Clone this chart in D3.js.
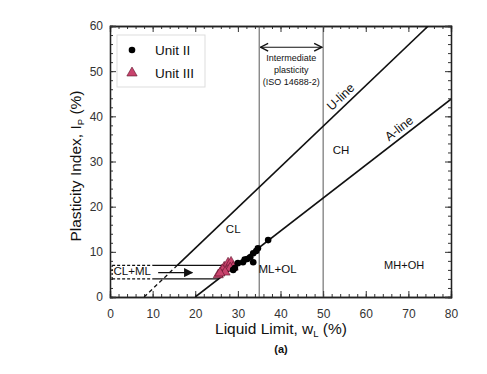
<!DOCTYPE html>
<html>
<head>
<meta charset="utf-8">
<script src="https://cdn.jsdelivr.net/npm/d3@7"></script>
<style>
  html,body{margin:0;padding:0;background:#fff;}
  svg{display:block;font-family:Arial,"Liberation Sans",sans-serif;}
  .tick text{fill:#333;font-size:12px;}
</style>
</head>
<body>
<div id="view"></div>
<script>
(function(){
/* ===================== DATA ===================== */
// Unit II  (liquid limit wL, plasticity index Ip)
const unit2LL = [29.3, 30.0, 31.2, 32.2, 32.9, 33.6, 34.3, 34.7, 33.6, 37.1, 28.9, 31.6];
const unit2PI = [ 6.4,  7.5,  7.7,  8.4,  8.8,  9.7, 10.2, 10.8,  7.7, 12.6,  6.0,  8.3];
// Unit III
const unit3LL = [25.4, 26.3, 26.8, 27.7, 28.4, 28.9, 28.2, 27.0, 25.8];
const unit3PI = [ 4.9,  6.0,  6.6,  7.5,  7.7,  6.6,  6.4,  5.5,  5.3];

const xTicks = [0, 10, 20, 30, 40, 50, 60, 70, 80];
const yTicks = [0, 10, 20, 30, 40, 50, 60];

// classification lines
const aLine = ll => 0.73 * (ll - 20);
const uLine = ll => 0.9 * (ll - 8);
const zoneLow = 4, zoneHigh = 7;
const intermediate = [35, 50];

/* ===================== LAYOUT ===================== */
const W = 487, H = 374;
const M = { l:110, t:26, r:W-451, b:H-297 };
const w = W - M.l - M.r, h = H - M.t - M.b;

const svg = d3.select("#view").append("svg").attr("width", W).attr("height", H);
const g = svg.append("g").attr("transform", `translate(${M.l},${M.t})`);

const x = d3.scaleLinear().domain([0, 80]).range([0, w]);
const y = d3.scaleLinear().domain([0, 60]).range([h, 0]);

const defs = svg.append("defs");
defs.append("clipPath").attr("id","plotclip")
  .append("rect").attr("width", w).attr("height", h);

/* ===================== AXES ===================== */
const minorX = d3.range(0, 81, 2), minorY = d3.range(0, 61, 2);
// minor ticks inward on all sides
g.append("g").attr("transform",`translate(0,${h})`)
  .call(d3.axisBottom(x).tickValues(minorX).tickSize(-3).tickFormat(""));
g.append("g")
  .call(d3.axisTop(x).tickValues(minorX).tickSize(-3).tickFormat(""));
g.append("g")
  .call(d3.axisLeft(y).tickValues(minorY).tickSize(-3).tickFormat(""));
g.append("g").attr("transform",`translate(${w},0)`)
  .call(d3.axisRight(y).tickValues(minorY).tickSize(-3).tickFormat(""));
// major ticks + labels
g.append("g").attr("transform",`translate(0,${h})`)
  .call(d3.axisBottom(x).tickValues(xTicks).tickSize(-6).tickPadding(12));
g.append("g")
  .call(d3.axisTop(x).tickValues(xTicks).tickSize(-6).tickFormat(""));
g.append("g")
  .call(d3.axisLeft(y).tickValues(yTicks).tickSize(-6).tickPadding(7));
g.append("g").attr("transform",`translate(${w},0)`)
  .call(d3.axisRight(y).tickValues(yTicks).tickSize(-6).tickFormat(""));
g.selectAll(".domain").attr("stroke","#222").attr("stroke-width",1.3);
g.selectAll(".tick line").attr("stroke","#333");

/* ===================== LINES ===================== */
const plot = g.append("g").attr("clip-path","url(#plotclip)");
const line = d3.line().x(d => x(d[0])).y(d => y(d[1]));

// intermediate plasticity verticals
plot.selectAll("line.iso").data(intermediate).join("line")
  .attr("x1", d => x(d)).attr("x2", d => x(d)).attr("y1", 0).attr("y2", h)
  .attr("stroke","#444").attr("stroke-width",0.9);

// U-line: dashed below zoneHigh, solid above
const uStart = 8, uBreak = 8 + zoneHigh/0.9, uEnd = 8 + 60/0.9;
plot.append("path").attr("d", line([[uStart, uLine(uStart)], [uBreak, uLine(uBreak)]]))
  .attr("fill","none").attr("stroke","#111").attr("stroke-width",1.3).attr("stroke-dasharray","4,3");
plot.append("path").attr("d", line([[uBreak, uLine(uBreak)], [uEnd, uLine(uEnd)]]))
  .attr("fill","none").attr("stroke","#111").attr("stroke-width",1.6);
// A-line
plot.append("path").attr("d", line([[20, 0], [80, aLine(80)]]))
  .attr("fill","none").attr("stroke","#111").attr("stroke-width",1.6);

// CL-ML band: dashed part from 0 to 10, solid to A-line
[zoneLow, zoneHigh].forEach(p => {
  plot.append("path").attr("d", line([[0.5, p], [10, p]]))
    .attr("fill","none").attr("stroke","#111").attr("stroke-width",1.2).attr("stroke-dasharray","3,2");
  plot.append("path").attr("d", line([[10, p], [20 + p/0.73, p]]))
    .attr("fill","none").attr("stroke","#111").attr("stroke-width",1.2);
});
plot.append("path").attr("d", line([[0.5, zoneLow], [0.5, zoneHigh]]))
  .attr("fill","none").attr("stroke","#111").attr("stroke-width",1.2).attr("stroke-dasharray","2,2");

/* arrows */
defs.append("marker").attr("id","arr").attr("viewBox","0 0 10 10").attr("refX",9).attr("refY",5)
  .attr("markerWidth",7).attr("markerHeight",7).attr("orient","auto-start-reverse")
  .append("path").attr("d","M0,0 L10,5 L0,10 z").attr("fill","#111");
defs.append("marker").attr("id","arrOpen").attr("viewBox","0 0 10 10").attr("refX",9).attr("refY",5)
  .attr("markerWidth",8).attr("markerHeight",8).attr("orient","auto-start-reverse")
  .append("path").attr("d","M1,1 L9,5 L1,9").attr("fill","none").attr("stroke","#111").attr("stroke-width",1.5);

g.append("path").attr("d", line([[11.3, 5.4], [19.3, 5.4]]))
  .attr("stroke","#111").attr("stroke-width",1.3).attr("marker-end","url(#arr)");
g.append("path").attr("d", line([[35.3, 55.3], [49.7, 55.3]]))
  .attr("stroke","#111").attr("stroke-width",1.2)
  .attr("marker-start","url(#arrOpen)").attr("marker-end","url(#arrOpen)");

/* ===================== TEXT LABELS ===================== */
const txt = (ll, pi, s, size, rot) => {
  const t = g.append("text").attr("text-anchor","middle")
    .attr("transform", `translate(${x(ll)},${y(pi)})` + (rot ? ` rotate(${rot})` : ""))
    .attr("font-size", size).attr("fill","#111").text(s);
  return t;
};
const isoLines = ["Intermediate","plasticity","(ISO 14688-2)"];
isoLines.forEach((s,i) => txt(42.5, 52.2 - i*2.65, s, 9));
txt(28.9, 14.2, "CL", 11.5);
txt(39.3, 5.3, "ML+OL", 11.5);
txt(54.2, 31.6, "CH", 11.5);
txt(69, 6.1, "MH+OH", 11);
txt(5.2, 4.9, "CL+ML", 11.5);
const uAng = -Math.atan(0.9 * (h/60) / (w/80)) * 180/Math.PI;
const aAng = -Math.atan(0.73 * (h/60) / (w/80)) * 180/Math.PI;
txt(54.8, 43.6, "U-line", 12.5, uAng);
txt(68.4, 36.6, "A-line", 12.5, aAng);

/* ===================== POINTS ===================== */
const u2 = unit2LL.map((v,i) => [v, unit2PI[i]]);
const u3 = unit3LL.map((v,i) => [v, unit3PI[i]]);
const tri = d3.symbol().type(d3.symbolTriangle).size(44);
g.selectAll("path.u3").data(u3).join("path").attr("class","u3")
  .attr("d", tri).attr("transform", d => `translate(${x(d[0])},${y(d[1])})`)
  .attr("fill","#c8436d").attr("stroke","#5a1028").attr("stroke-width",0.6);
g.selectAll("circle.u2").data(u2).join("circle").attr("class","u2")
  .attr("cx", d => x(d[0])).attr("cy", d => y(d[1])).attr("r", 3.3).attr("fill","#000");

/* ===================== LEGEND ===================== */
const lg = svg.append("g").attr("transform","translate(117,35)");
lg.append("rect").attr("width",88).attr("height",52).attr("fill","#fff")
  .attr("stroke","#ddd").attr("stroke-width",1);
lg.append("circle").attr("cx",15).attr("cy",15).attr("r",3.3).attr("fill","#000");
lg.append("path").attr("d", d3.symbol().type(d3.symbolTriangle).size(46))
  .attr("transform","translate(15,38)").attr("fill","#c8436d").attr("stroke","#5a1028").attr("stroke-width",0.6);
lg.append("text").attr("x",38).attr("y",20).attr("font-size",13.5).attr("fill","#111").text("Unit II");
lg.append("text").attr("x",38).attr("y",43).attr("font-size",13.5).attr("fill","#111").text("Unit III");

/* ===================== AXIS TITLES ===================== */
const xt = svg.append("text").attr("x", 281).attr("y", 334).attr("text-anchor","middle")
  .attr("font-size",15.5).attr("fill","#111");
xt.append("tspan").text("Liquid Limit,  w");
xt.append("tspan").attr("font-size",9.5).attr("dy",3).text("L");
xt.append("tspan").attr("dy",-3).text(" (%)");

svg.append("text").attr("x", 281).attr("y", 353).attr("text-anchor","middle")
  .attr("font-size",11).attr("font-weight","bold").attr("fill","#111").text("(a)");

const yt = svg.append("text").attr("transform","translate(81,166) rotate(-90)")
  .attr("text-anchor","middle").attr("font-size",15.5).attr("fill","#111");
yt.append("tspan").text("Plasticity Index,  I");
yt.append("tspan").attr("font-size",9.5).attr("dy",3).text("P");
yt.append("tspan").attr("dy",-3).text(" (%)");
})();
</script>
</body>
</html>
